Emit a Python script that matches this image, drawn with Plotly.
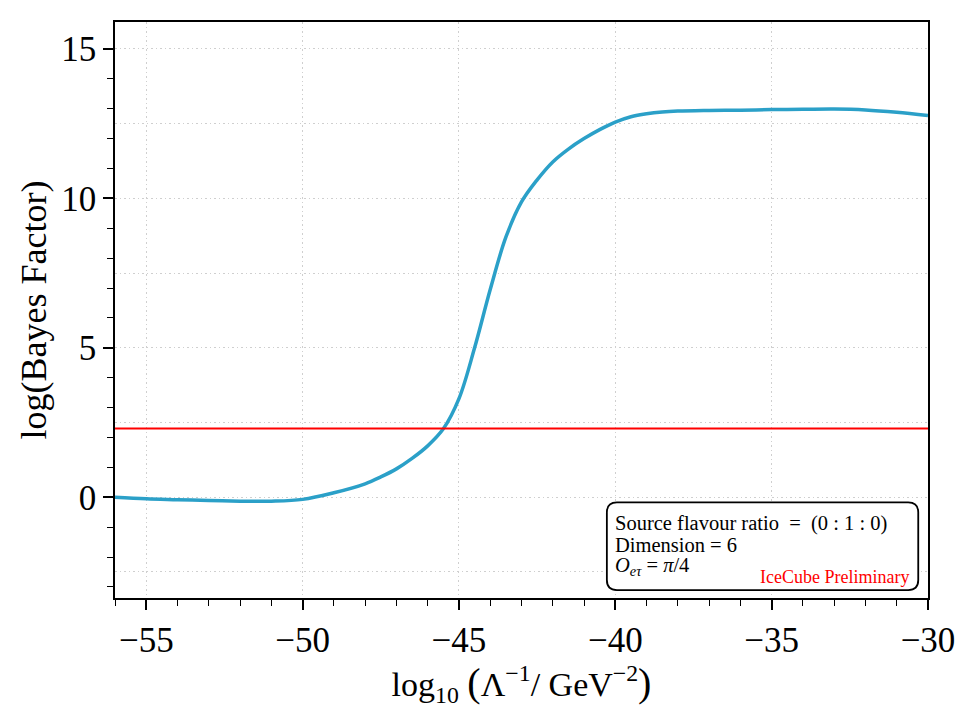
import plotly.graph_objects as go

# log10(Lambda^-1 / GeV^-2) vs log(Bayes factor)
log_lambda = [-56, -55, -54, -53, -52, -51, -50, -49, -48, -47.5, -47, -46.5,
              -46, -45.5, -45, -44.5, -44, -43.5, -43, -42.5, -42, -41.5, -41,
              -40.5, -40, -39.5, -39, -38.5, -38, -37, -36, -35, -34, -33, -32,
              -31, -30]
log_bf = [0.0, -0.05, -0.08, -0.11, -0.13, -0.13, -0.07, 0.15, 0.45, 0.68, 0.95, 1.3,
          1.72, 2.29, 3.3, 5.0, 6.95, 8.7, 9.88, 10.62, 11.22, 11.65, 12.0,
          12.3, 12.55, 12.73, 12.83, 12.89, 12.92, 12.94, 12.95, 12.97, 12.98, 12.99, 12.96,
          12.88, 12.77]

threshold = 2.3  # ~ log(10)
x_range = [-56, -30]
y_range = [-3.37, 15.9]

font = "Liberation Serif"
blue = "#2ba0c8"
grid = "#cfcfcf"

fig = go.Figure()
fig.add_trace(go.Scatter(x=log_lambda, y=log_bf, mode="lines",
                         line=dict(color=blue, width=3.5, shape="spline", smoothing=1.0),
                         showlegend=False, hoverinfo="skip"))
fig.add_trace(go.Scatter(x=x_range, y=[threshold, threshold], mode="lines",
                         line=dict(color="red", width=2), yaxis="y2",
                         showlegend=False, hoverinfo="skip"))

fig.update_layout(
    width=975, height=715,
    margin=dict(l=107, r=55, t=12, b=125),
    plot_bgcolor="white", paper_bgcolor="white",
    font=dict(family=font, color="black"),
    xaxis=dict(range=x_range, dtick=5, tick0=0, ticks="outside", ticklen=10, tickwidth=1.5,
               tickcolor="black", showline=True, linecolor="black", linewidth=1.5, mirror=True,
               showgrid=True, gridcolor=grid, griddash="1.5px,3px", gridwidth=1.3,
               zeroline=False, tickfont=dict(size=35),
               minor=dict(dtick=1, ticks="outside", ticklen=6, tickwidth=1.2, tickcolor="black",
                          showgrid=False),
               title=dict(text="log<sub>10</sub> <span style='font-size:40px'>(</span>Λ<sup>−1</sup>/ GeV<sup>−2</sup><span style='font-size:40px'>)</span>",
                          font=dict(size=34), standoff=4)),
    yaxis=dict(range=y_range, dtick=5, tick0=0, ticks="outside", ticklen=10, tickwidth=1.5,
               tickcolor="black", showline=True, linecolor="black", linewidth=1.5, mirror=True,
               showgrid=False, zeroline=False, tickfont=dict(size=35),
               minor=dict(dtick=1, ticks="outside", ticklen=6, tickwidth=1.2, tickcolor="black",
                          showgrid=False),
               title=dict(text="log(Bayes Factor)", font=dict(size=36), standoff=4)),
    yaxis2=dict(range=y_range, overlaying="y", dtick=2.5, tick0=0, showticklabels=False,
                ticks="", showgrid=True, gridcolor=grid, griddash="1.5px,3px", gridwidth=1.3,
                zeroline=False, showline=False),
)

# rounded info box
x0, x1, y0, y1 = 0.605, 0.988, 0.0138, 0.166
rx, ry = 0.0123, 0.0173
path = (f"M {x0+rx},{y0} L {x1-rx},{y0} Q {x1},{y0} {x1},{y0+ry} "
        f"L {x1},{y1-ry} Q {x1},{y1} {x1-rx},{y1} L {x0+rx},{y1} "
        f"Q {x0},{y1} {x0},{y1-ry} L {x0},{y0+ry} Q {x0},{y0} {x0+rx},{y0} Z")
fig.add_shape(type="path", path=path, xref="paper", yref="paper",
              line=dict(color="black", width=1.8), fillcolor="white", layer="above")

info_lines = ["Source flavour ratio  =  (0 : 1 : 0)",
              "Dimension = 6",
              "<i>O</i><sub><i>eτ</i></sub> = <i>π</i>/4"]
info_y = [0.13, 0.0925, 0.055]
for txt, yy in zip(info_lines, info_y):
    fig.add_annotation(x=0.612, y=yy, xref="paper", yref="paper", text=txt,
                       showarrow=False, xanchor="left", yanchor="middle",
                       font=dict(size=20.5, family=font, color="black"))
fig.add_annotation(x=0.979, y=0.036, xref="paper", yref="paper", text="IceCube Preliminary",
                   showarrow=False, xanchor="right", yanchor="middle",
                   font=dict(size=18, family=font, color="red"))

fig.write_html("out.html")
